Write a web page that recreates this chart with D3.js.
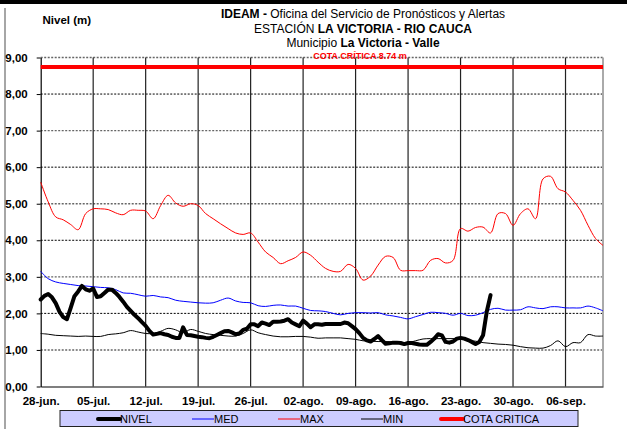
<!DOCTYPE html>
<html>
<head>
<meta charset="utf-8">
<script src="https://cdn.jsdelivr.net/npm/d3@7"></script>
<style>
body { margin: 0; background: #fff; }
text { font-family: "Liberation Sans", Arial, sans-serif; }
</style>
</head>
<body>
<script>
// date labels on the x axis (one every 7 days, day 0 = 28-jun)
var tickDays = [0, 7, 14, 21, 28, 35, 42, 49, 56, 63, 70];
var tickLabels = ["28-jun.", "05-jul.", "12-jul.", "19-jul.", "26-jul.", "02-ago.", "09-ago.", "16-ago.", "23-ago.", "30-ago.", "06-sep."];
var yTicks = [0, 1, 2, 3, 4, 5, 6, 7, 8, 9];
var lastDay = 75;

// daily historical values, day 0..75
var maxVals = [5.59, 5.05, 4.64, 4.56, 4.43, 4.29, 4.73, 4.86, 4.86, 4.84, 4.75, 4.70, 4.82, 4.82, 4.80, 4.59, 4.95, 5.23, 5.02, 4.93,
  5.00, 4.95, 4.73, 4.59, 4.45, 4.32, 4.20, 4.16, 4.20, 3.95, 3.68, 3.53, 3.36, 3.44, 3.53, 3.68, 3.59, 3.40,
  3.23, 3.15, 3.15, 3.34, 3.23, 2.91, 3.02, 3.32, 3.56, 3.53, 3.18, 3.17, 3.17, 3.18, 3.45, 3.50, 3.38, 3.45,
  4.32, 4.25, 4.35, 4.36, 4.20, 4.73, 4.73, 4.41, 4.73, 4.86, 4.59, 5.68, 5.75, 5.41, 5.32, 5.09, 4.82, 4.41, 4.05, 3.86];
var medVals = [3.15, 2.95, 2.86, 2.82, 2.79, 2.76, 2.75, 2.73, 2.71, 2.70, 2.65, 2.56, 2.55, 2.51, 2.47, 2.49, 2.45, 2.43, 2.36, 2.33,
  2.31, 2.29, 2.28, 2.29, 2.36, 2.42, 2.34, 2.30, 2.29, 2.21, 2.19, 2.22, 2.23, 2.20, 2.20, 2.14, 2.08, 2.07,
  2.05, 2.00, 1.96, 2.00, 2.02, 2.02, 2.01, 2.02, 1.96, 1.93, 1.89, 1.85, 1.91, 1.97, 2.03, 2.02, 2.00, 1.95,
  2.00, 1.94, 1.95, 2.02, 2.11, 2.14, 2.09, 2.09, 2.10, 2.18, 2.15, 2.13, 2.18, 2.18, 2.15, 2.15, 2.15, 2.20, 2.15, 2.07];
var minVals = [1.45, 1.43, 1.40, 1.39, 1.38, 1.37, 1.38, 1.37, 1.37, 1.42, 1.44, 1.47, 1.53, 1.49, 1.45, 1.45, 1.51, 1.59, 1.55, 1.47,
  1.56, 1.51, 1.45, 1.42, 1.40, 1.38, 1.38, 1.45, 1.55, 1.47, 1.42, 1.38, 1.36, 1.36, 1.37, 1.37, 1.35, 1.32,
  1.33, 1.33, 1.33, 1.31, 1.29, 1.25, 1.24, 1.23, 1.23, 1.22, 1.21, 1.20, 1.25, 1.30, 1.31, 1.31, 1.31, 1.31,
  1.31, 1.26, 1.24, 1.20, 1.18, 1.16, 1.15, 1.13, 1.09, 1.06, 1.05, 1.05, 1.12, 1.25, 1.09, 1.20, 1.20, 1.42, 1.38, 1.38];

// observed level, every half day from day 0 to day 60
var nivelStep = 0.5;
var nivelVals = [2.38, 2.48, 2.53, 2.44, 2.28, 2.05, 1.90, 1.84, 2.15, 2.47, 2.60, 2.75, 2.66, 2.62, 2.68, 2.45, 2.47, 2.56, 2.65, 2.65,
  2.56, 2.45, 2.32, 2.18, 2.07, 1.96, 1.87, 1.76, 1.66, 1.52, 1.42, 1.44, 1.46, 1.43, 1.41, 1.36, 1.33, 1.33, 1.62, 1.41,
  1.40, 1.38, 1.36, 1.35, 1.33, 1.32, 1.36, 1.41, 1.46, 1.51, 1.52, 1.48, 1.43, 1.45, 1.55, 1.58, 1.70, 1.70, 1.65, 1.75,
  1.72, 1.68, 1.77, 1.77, 1.78, 1.80, 1.84, 1.75, 1.70, 1.65, 1.80, 1.72, 1.62, 1.70, 1.70, 1.69, 1.71, 1.71, 1.71, 1.71,
  1.71, 1.75, 1.73, 1.65, 1.57, 1.46, 1.33, 1.26, 1.23, 1.30, 1.38, 1.27, 1.17, 1.18, 1.20, 1.20, 1.19, 1.16, 1.19, 1.19,
  1.17, 1.15, 1.14, 1.14, 1.22, 1.31, 1.43, 1.40, 1.22, 1.20, 1.23, 1.31, 1.33, 1.31, 1.27, 1.22, 1.16, 1.22, 1.40, 2.05,
  2.50];
var cotaCritica = 8.74;

var width = 627, height = 429;

var svg = d3.select("body").append("svg")
    .attr("width", width)
    .attr("height", height);

svg.append("rect").attr("width", width).attr("height", height).attr("fill", "#fff");

// frame bits
svg.append("rect").attr("x", 0).attr("y", 0).attr("width", width).attr("height", 4).attr("fill", "#000");
svg.append("line").attr("x1", 5).attr("x2", 5).attr("y1", 8).attr("y2", height)
    .attr("stroke", "#888").attr("stroke-width", 1.5);

var x = d3.scaleLinear().domain([0, lastDay]).range([40.7, 603]);
var y = d3.scaleLinear().domain([0, 9]).range([386.5, 57.5]);

// horizontal grid
svg.append("g").selectAll("line")
    .data(yTicks.filter(function(d) { return d > 0; }))
    .enter().append("line")
    .attr("x1", x(0)).attr("x2", x(lastDay))
    .attr("y1", function(d) { return y(d); })
    .attr("y2", function(d) { return y(d); })
    .attr("stroke", function(d) { return d % 2 == 0 ? "#000" : "#666"; })
    .attr("stroke-width", function(d) { return d % 2 == 0 ? 1 : 1.4; })
    .attr("stroke-dasharray", "2,1.5");

// vertical grid
svg.append("g").selectAll("line")
    .data(tickDays.filter(function(d) { return d > 0; }))
    .enter().append("line")
    .attr("x1", function(d) { return x(d); })
    .attr("x2", function(d) { return x(d); })
    .attr("y1", y(9)).attr("y2", y(0))
    .attr("stroke", "#222").attr("stroke-width", 1.2);

svg.append("line")
    .attr("x1", x(lastDay)).attr("x2", x(lastDay))
    .attr("y1", y(9)).attr("y2", y(0))
    .attr("stroke", "#aaa").attr("stroke-width", 2);

// axes
var yAxis = svg.append("g")
    .attr("transform", "translate(" + x(0) + ",0)")
    .call(d3.axisLeft(y).tickValues(yTicks).tickSize(4).tickSizeOuter(0)
      .tickFormat(function(d) { return d.toFixed(2).replace(".", ","); }));
yAxis.selectAll("text").attr("x", -13).attr("text-anchor", "end")
    .style("font-family", "Liberation Sans, Arial").style("font-size", "11.5px").style("font-weight", "bold").attr("fill", "#000");
yAxis.select(".domain").attr("stroke", "#000").attr("stroke-width", 1.2);

var xAxis = svg.append("g")
    .attr("transform", "translate(0," + y(0) + ")")
    .call(d3.axisBottom(x).tickValues(tickDays).tickSize(0).tickSizeOuter(0)
      .tickFormat(function(d, i) { return tickLabels[i]; }));
xAxis.selectAll("text").attr("y", 10)
    .style("font-family", "Liberation Sans, Arial").style("font-size", "11.5px").style("font-weight", "bold").attr("fill", "#000");
xAxis.select(".domain").attr("stroke", "#000").attr("stroke-width", 1.2);

// series
var smooth = d3.line()
    .x(function(d, i) { return x(i); })
    .y(function(d) { return y(d); })
    .curve(d3.curveCatmullRom.alpha(0.5));

svg.append("path").datum(minVals).attr("d", smooth)
    .attr("fill", "none").attr("stroke", "#000").attr("stroke-width", 1);
svg.append("path").datum(medVals).attr("d", smooth)
    .attr("fill", "none").attr("stroke", "#0000ff").attr("stroke-width", 1);
svg.append("path").datum(maxVals).attr("d", smooth)
    .attr("fill", "none").attr("stroke", "#ff0000").attr("stroke-width", 1);

var nivelLine = d3.line()
    .x(function(d, i) { return x(i * nivelStep); })
    .y(function(d) { return y(d); });
svg.append("path").datum(nivelVals).attr("d", nivelLine)
    .attr("fill", "none").attr("stroke", "#000").attr("stroke-width", 4)
    .attr("stroke-linejoin", "round").attr("stroke-linecap", "round");

svg.append("line")
    .attr("x1", x(0)).attr("x2", x(lastDay))
    .attr("y1", y(cotaCritica)).attr("y2", y(cotaCritica))
    .attr("stroke", "#ff0000").attr("stroke-width", 4);

// titles
var title = svg.append("text").attr("x", 363).attr("y", 18).attr("text-anchor", "middle").style("font-size", "12px");
title.append("tspan").style("font-weight", "bold").text("IDEAM - ");
title.append("tspan").text("Oficina del Servicio de Pronósticos y Alertas");

var title2 = svg.append("text").attr("x", 363).attr("y", 33).attr("text-anchor", "middle").style("font-size", "12px");
title2.append("tspan").text("ESTACIÓN ");
title2.append("tspan").style("font-weight", "bold").text("LA VICTORIA - RIO CAUCA");

var title3 = svg.append("text").attr("x", 363).attr("y", 47).attr("text-anchor", "middle").style("font-size", "12px");
title3.append("tspan").text("Municipio ");
title3.append("tspan").style("font-weight", "bold").text("La Victoria - Valle");

svg.append("text").attr("x", 360).attr("y", 59).attr("text-anchor", "middle")
    .style("font-size", "9px").style("font-weight", "bold").attr("fill", "#ff0000")
    .text("COTA CRÍTICA " + cotaCritica + " m");

svg.append("text").attr("x", 42.5).attr("y", 24)
    .style("font-size", "11.5px").style("font-weight", "bold")
    .text("Nivel (m)");

// legend
var legendNames = ["NIVEL", "MED", "MAX", "MIN", "COTA CRITICA"];
var legendColors = ["#000", "#0000ff", "#ff0000", "#000", "#ff0000"];
var legendWidths = [4, 1, 1, 1, 4];
var legendX = [98, 192, 278, 361, 441];

svg.append("rect").attr("x", 60).attr("y", 410.5).attr("width", 518).attr("height", 16)
    .attr("fill", "#ccccff").attr("stroke", "#222").attr("stroke-width", 1);

var items = svg.append("g").selectAll("g")
    .data(legendNames)
    .enter().append("g")
    .attr("transform", function(d, i) { return "translate(" + legendX[i] + ",419)"; });
items.append("line").attr("x1", 0).attr("x2", 22)
    .attr("stroke", function(d, i) { return legendColors[i]; })
    .attr("stroke-width", function(d, i) { return legendWidths[i]; })
    .attr("stroke-linecap", function(d, i) { return legendWidths[i] > 2 ? "round" : "butt"; });
items.append("text").attr("x", 22).attr("y", 4)
    .style("font-size", "11px").text(function(d) { return d; });
</script>
</body>
</html>
